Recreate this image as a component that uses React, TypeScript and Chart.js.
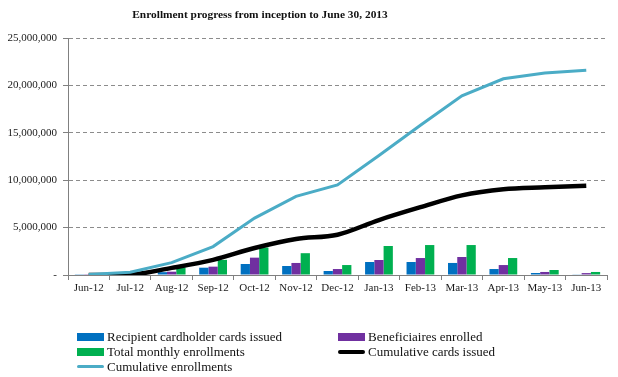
import React, { useEffect, useRef } from "react";
import { Chart, registerables } from "chart.js";

Chart.register(...registerables);

const categories = ["Jun-12", "Jul-12", "Aug-12", "Sep-12", "Oct-12", "Nov-12", "Dec-12", "Jan-13", "Feb-13", "Mar-13", "Apr-13", "May-13", "Jun-13"];
const cardsIssued = [80000, 30000, 300000, 770000, 1160000, 950000, 420000, 1370000, 1370000, 1270000, 630000, 210000, 70000];
const beneficiariesEnrolled = [20000, 30000, 350000, 880000, 1830000, 1270000, 630000, 1580000, 1790000, 1900000, 1050000, 320000, 200000];
const totalMonthlyEnrollments = [50000, 80000, 800000, 1600000, 2900000, 2300000, 1050000, 3060000, 3160000, 3160000, 1790000, 530000, 320000];
const cumulativeCards = [0, 50000, 750000, 1600000, 2850000, 3800000, 4250000, 5800000, 7150000, 8400000, 9050000, 9250000, 9420000];
const cumulativeEnrollments = [50000, 300000, 1300000, 3000000, 6000000, 8300000, 9500000, 12600000, 15800000, 18900000, 20700000, 21300000, 21600000];
const yTicks = [0, 5000000, 10000000, 15000000, 20000000, 25000000];

const title = "Enrollment progress from inception to June 30, 2013";
const FONT = "'Liberation Serif', 'Times New Roman', serif";

const legendItems = [
  { label: "Recipient cardholder cards issued", color: "#0070C0", kind: "box", w: 8 },
  { label: "Beneficiaires enrolled", color: "#7030A0", kind: "box", w: 8 },
  { label: "Total monthly enrollments", color: "#00B050", kind: "box", w: 8 },
  { label: "Cumulative cards issued", color: "#000000", kind: "line", w: 4 },
  { label: "Cumulative enrollments", color: "#4BACC6", kind: "line", w: 3 },
];

export default function App() {
  const ref = useRef<HTMLCanvasElement | null>(null);

  useEffect(() => {
    document.body.style.margin = "0";
    const canvas = ref.current;
    if (!canvas) return;
    const chart = new Chart(canvas, {
      type: "bar",
      data: {
        labels: categories,
        datasets: [
          { type: "bar", label: legendItems[0].label, data: cardsIssued, backgroundColor: "#0070C0", order: 2, categoryPercentage: 0.67, barPercentage: 1 },
          { type: "bar", label: legendItems[1].label, data: beneficiariesEnrolled, backgroundColor: "#7030A0", order: 2, categoryPercentage: 0.67, barPercentage: 1 },
          { type: "bar", label: legendItems[2].label, data: totalMonthlyEnrollments, backgroundColor: "#00B050", order: 2, categoryPercentage: 0.67, barPercentage: 1 },
          { type: "line", label: legendItems[3].label, data: cumulativeCards, borderColor: "#000000", borderWidth: 4.5, pointRadius: 0, tension: 0.4, cubicInterpolationMode: "monotone", order: 1, fill: false },
          { type: "line", label: legendItems[4].label, data: cumulativeEnrollments, borderColor: "#4BACC6", borderWidth: 3, pointRadius: 0, tension: 0, order: 0, fill: false },
        ] as any,
      },
      options: {
        animation: false,
        responsive: false,
        maintainAspectRatio: false,
        layout: { padding: { left: 0, right: 11, top: 38, bottom: 72 } },
        plugins: { legend: { display: false }, tooltip: { enabled: false }, title: { display: false } },
        scales: {
          x: {
            offset: true,
            grid: { offset: true, drawOnChartArea: false, drawTicks: true, tickLength: 5, color: "#808080" },
            border: { display: true, color: "#808080", width: 1 },
            ticks: { font: { family: FONT, size: 11 }, color: "#1a1a1a", padding: 2, maxRotation: 0, autoSkip: false },
            afterFit: (s: any) => { s.height = 30; },
          },
          y: {
            min: 0,
            max: 25000000,
            afterBuildTicks: (s: any) => { s.ticks = yTicks.map((v) => ({ value: v })); },
            grid: { color: "#8c8c8c", tickColor: "#808080", tickLength: 5, drawTicks: true, tickBorderDash: [] },
            border: { display: true, color: "#808080", width: 1, dash: [4, 3] },
            ticks: {
              font: { family: FONT, size: 11 },
              color: "#1a1a1a",
              padding: 6,
              callback: (v: any) => (Number(v) === 0 ? "-" : Number(v).toLocaleString("en-US")),
            },
            afterFit: (s: any) => { s.width = 68; },
          },
        },
      } as any,
    });
    return () => chart.destroy();
  }, []);

  return (
    <div style={{ position: "relative", width: 618, height: 377, background: "#fff", fontFamily: FONT }}>
      <canvas ref={ref} width={618} height={377} style={{ position: "absolute", left: 0, top: 0, width: 618, height: 377 }} />
      <div style={{ position: "absolute", left: 0, width: 520, top: 8, textAlign: "center", fontWeight: "bold", fontSize: 11.4, color: "#111", whiteSpace: "nowrap" }}>
        {title}
      </div>
      {legendItems.map((it, i) => {
        const col = i % 2;
        const row = Math.floor(i / 2);
        const left = col === 0 ? 77 : 338;
        const top = 329 + row * 15;
        return (
          <div key={it.label} style={{ position: "absolute", left, top, height: 15, display: "flex", alignItems: "center", fontSize: 13, color: "#111", whiteSpace: "nowrap" }}>
            <span style={{ display: "inline-block", width: 27, height: it.w, background: it.color, marginRight: 3, borderRadius: it.kind === "line" ? 2 : 0 }} />
            <span>{it.label}</span>
          </div>
        );
      })}
    </div>
  );
}
